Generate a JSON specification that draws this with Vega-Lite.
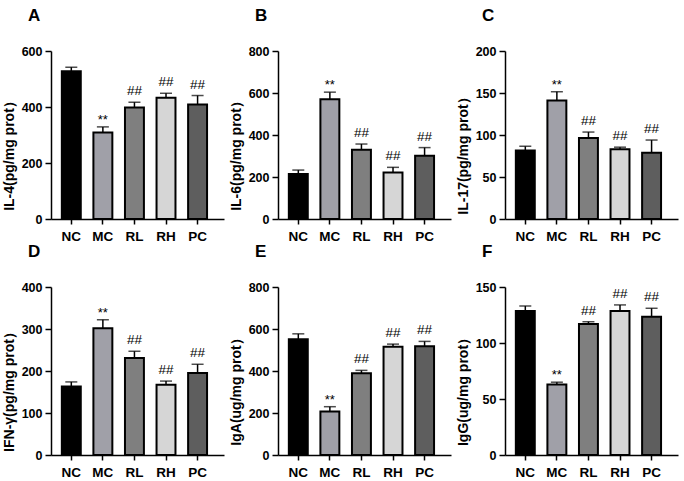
{
  "$schema": "https://vega.github.io/schema/vega-lite/v6.json",
  "padding": {"left": 2, "top": 7, "right": 2, "bottom": 3},
  "background": "white",
  "spacing": 0,
  "datasets": {
    "d": [
      {"panel": "A", "group": "NC", "mean": 528, "hi": 542, "sig": ""},
      {"panel": "A", "group": "MC", "mean": 309, "hi": 329, "sig": "**"},
      {"panel": "A", "group": "RL", "mean": 398, "hi": 417, "sig": "##"},
      {"panel": "A", "group": "RH", "mean": 433, "hi": 449, "sig": "##"},
      {"panel": "A", "group": "PC", "mean": 409, "hi": 441, "sig": "##"},
      {"panel": "B", "group": "NC", "mean": 214, "hi": 233, "sig": ""},
      {"panel": "B", "group": "MC", "mean": 570, "hi": 604, "sig": "**"},
      {"panel": "B", "group": "RL", "mean": 330, "hi": 357, "sig": "##"},
      {"panel": "B", "group": "RH", "mean": 221, "hi": 246, "sig": "##"},
      {"panel": "B", "group": "PC", "mean": 301, "hi": 340, "sig": "##"},
      {"panel": "C", "group": "NC", "mean": 81.5, "hi": 86.5, "sig": ""},
      {"panel": "C", "group": "MC", "mean": 141, "hi": 151.5, "sig": "**"},
      {"panel": "C", "group": "RL", "mean": 96.5, "hi": 103.5, "sig": "##"},
      {"panel": "C", "group": "RH", "mean": 83, "hi": 85.5, "sig": "##"},
      {"panel": "C", "group": "PC", "mean": 79, "hi": 94, "sig": "##"},
      {"panel": "D", "group": "NC", "mean": 163, "hi": 174, "sig": ""},
      {"panel": "D", "group": "MC", "mean": 302, "hi": 322, "sig": "**"},
      {"panel": "D", "group": "RL", "mean": 231, "hi": 247, "sig": "##"},
      {"panel": "D", "group": "RH", "mean": 167, "hi": 176, "sig": "##"},
      {"panel": "D", "group": "PC", "mean": 195, "hi": 216, "sig": "##"},
      {"panel": "E", "group": "NC", "mean": 551, "hi": 577, "sig": ""},
      {"panel": "E", "group": "MC", "mean": 207, "hi": 230, "sig": "**"},
      {"panel": "E", "group": "RL", "mean": 389, "hi": 403, "sig": "##"},
      {"panel": "E", "group": "RH", "mean": 515, "hi": 528, "sig": "##"},
      {"panel": "E", "group": "PC", "mean": 518, "hi": 541, "sig": "##"},
      {"panel": "F", "group": "NC", "mean": 128.5, "hi": 133, "sig": ""},
      {"panel": "F", "group": "MC", "mean": 63, "hi": 65, "sig": "**"},
      {"panel": "F", "group": "RL", "mean": 117, "hi": 119, "sig": "##"},
      {"panel": "F", "group": "RH", "mean": 128.5, "hi": 134, "sig": "##"},
      {"panel": "F", "group": "PC", "mean": 123.5, "hi": 131, "sig": "##"}
    ]
  },
  "vconcat": [
    {
      "spacing": 5,
      "hconcat": [
        {
          "width": 173, "height": 168,
          "title": "A",
          "data": {"name": "d"},
          "transform": [{"filter": "datum.panel === 'A'"}],
          "encoding": {"x": {"field": "group", "type": "nominal", "sort": ["NC", "MC", "RL", "RH", "PC"], "title": null, "scale": {"paddingInner": 0.4, "paddingOuter": 0.44, "align": 0.39}}},
          "layer": [
            {"mark": {"type": "rule", "color": "black", "strokeWidth": 1.5}, "encoding": {"y": {"field": "mean", "type": "quantitative", "title": "IL-4(pg/mg prot）", "scale": {"domain": [0, 600], "nice": false}, "axis": {"values": [0, 200, 400, 600]}}, "y2": {"field": "hi"}}},
            {"mark": {"type": "tick", "color": "black", "size": 12, "thickness": 1.5}, "encoding": {"y": {"field": "hi", "type": "quantitative", "title": "IL-4(pg/mg prot）"}}},
            {"mark": {"type": "bar", "stroke": "black", "strokeWidth": 2}, "encoding": {"y": {"field": "mean", "type": "quantitative", "title": "IL-4(pg/mg prot）"}, "color": {"field": "group", "type": "nominal", "scale": {"domain": ["NC", "MC", "RL", "RH", "PC"], "range": ["#000000", "#a0a0a8", "#7f7f7f", "#d6d6d6", "#5e5e5e"]}, "legend": null}}},
            {"transform": [{"filter": "datum.sig === '**'"}], "mark": {"type": "text", "fontSize": 13, "dy": -3, "baseline": "alphabetic", "color": "black"}, "encoding": {"y": {"field": "hi", "type": "quantitative", "title": "IL-4(pg/mg prot）"}, "text": {"field": "sig"}}},
            {"transform": [{"filter": "datum.sig === '##'"}], "mark": {"type": "text", "fontSize": 13.5, "dy": -7, "baseline": "alphabetic", "color": "black"}, "encoding": {"y": {"field": "hi", "type": "quantitative", "title": "IL-4(pg/mg prot）"}, "text": {"field": "sig"}}}
          ]
        },
        {
          "width": 173, "height": 168,
          "title": "B",
          "data": {"name": "d"},
          "transform": [{"filter": "datum.panel === 'B'"}],
          "encoding": {"x": {"field": "group", "type": "nominal", "sort": ["NC", "MC", "RL", "RH", "PC"], "title": null, "scale": {"paddingInner": 0.4, "paddingOuter": 0.44, "align": 0.39}}},
          "layer": [
            {"mark": {"type": "rule", "color": "black", "strokeWidth": 1.5}, "encoding": {"y": {"field": "mean", "type": "quantitative", "title": "IL-6(pg/mg prot）", "scale": {"domain": [0, 800], "nice": false}, "axis": {"values": [0, 200, 400, 600, 800]}}, "y2": {"field": "hi"}}},
            {"mark": {"type": "tick", "color": "black", "size": 12, "thickness": 1.5}, "encoding": {"y": {"field": "hi", "type": "quantitative", "title": "IL-6(pg/mg prot）"}}},
            {"mark": {"type": "bar", "stroke": "black", "strokeWidth": 2}, "encoding": {"y": {"field": "mean", "type": "quantitative", "title": "IL-6(pg/mg prot）"}, "color": {"field": "group", "type": "nominal", "scale": {"domain": ["NC", "MC", "RL", "RH", "PC"], "range": ["#000000", "#a0a0a8", "#7f7f7f", "#d6d6d6", "#5e5e5e"]}, "legend": null}}},
            {"transform": [{"filter": "datum.sig === '**'"}], "mark": {"type": "text", "fontSize": 13, "dy": -3, "baseline": "alphabetic", "color": "black"}, "encoding": {"y": {"field": "hi", "type": "quantitative", "title": "IL-6(pg/mg prot）"}, "text": {"field": "sig"}}},
            {"transform": [{"filter": "datum.sig === '##'"}], "mark": {"type": "text", "fontSize": 13.5, "dy": -7, "baseline": "alphabetic", "color": "black"}, "encoding": {"y": {"field": "hi", "type": "quantitative", "title": "IL-6(pg/mg prot）"}, "text": {"field": "sig"}}}
          ]
        },
        {
          "width": 173, "height": 168,
          "title": "C",
          "data": {"name": "d"},
          "transform": [{"filter": "datum.panel === 'C'"}],
          "encoding": {"x": {"field": "group", "type": "nominal", "sort": ["NC", "MC", "RL", "RH", "PC"], "title": null, "scale": {"paddingInner": 0.4, "paddingOuter": 0.44, "align": 0.39}}},
          "layer": [
            {"mark": {"type": "rule", "color": "black", "strokeWidth": 1.5}, "encoding": {"y": {"field": "mean", "type": "quantitative", "title": "IL-17(pg/mg prot）", "scale": {"domain": [0, 200], "nice": false}, "axis": {"values": [0, 50, 100, 150, 200]}}, "y2": {"field": "hi"}}},
            {"mark": {"type": "tick", "color": "black", "size": 12, "thickness": 1.5}, "encoding": {"y": {"field": "hi", "type": "quantitative", "title": "IL-17(pg/mg prot）"}}},
            {"mark": {"type": "bar", "stroke": "black", "strokeWidth": 2}, "encoding": {"y": {"field": "mean", "type": "quantitative", "title": "IL-17(pg/mg prot）"}, "color": {"field": "group", "type": "nominal", "scale": {"domain": ["NC", "MC", "RL", "RH", "PC"], "range": ["#000000", "#a0a0a8", "#7f7f7f", "#d6d6d6", "#5e5e5e"]}, "legend": null}}},
            {"transform": [{"filter": "datum.sig === '**'"}], "mark": {"type": "text", "fontSize": 13, "dy": -3, "baseline": "alphabetic", "color": "black"}, "encoding": {"y": {"field": "hi", "type": "quantitative", "title": "IL-17(pg/mg prot）"}, "text": {"field": "sig"}}},
            {"transform": [{"filter": "datum.sig === '##'"}], "mark": {"type": "text", "fontSize": 13.5, "dy": -7, "baseline": "alphabetic", "color": "black"}, "encoding": {"y": {"field": "hi", "type": "quantitative", "title": "IL-17(pg/mg prot）"}, "text": {"field": "sig"}}}
          ]
        }
      ]
    },
    {
      "spacing": 5,
      "hconcat": [
        {
          "width": 173, "height": 168,
          "title": "D",
          "data": {"name": "d"},
          "transform": [{"filter": "datum.panel === 'D'"}],
          "encoding": {"x": {"field": "group", "type": "nominal", "sort": ["NC", "MC", "RL", "RH", "PC"], "title": null, "scale": {"paddingInner": 0.4, "paddingOuter": 0.44, "align": 0.39}}},
          "layer": [
            {"mark": {"type": "rule", "color": "black", "strokeWidth": 1.5}, "encoding": {"y": {"field": "mean", "type": "quantitative", "title": "IFN-γ(pg/mg prot）", "scale": {"domain": [0, 400], "nice": false}, "axis": {"values": [0, 100, 200, 300, 400]}}, "y2": {"field": "hi"}}},
            {"mark": {"type": "tick", "color": "black", "size": 12, "thickness": 1.5}, "encoding": {"y": {"field": "hi", "type": "quantitative", "title": "IFN-γ(pg/mg prot）"}}},
            {"mark": {"type": "bar", "stroke": "black", "strokeWidth": 2}, "encoding": {"y": {"field": "mean", "type": "quantitative", "title": "IFN-γ(pg/mg prot）"}, "color": {"field": "group", "type": "nominal", "scale": {"domain": ["NC", "MC", "RL", "RH", "PC"], "range": ["#000000", "#a0a0a8", "#7f7f7f", "#d6d6d6", "#5e5e5e"]}, "legend": null}}},
            {"transform": [{"filter": "datum.sig === '**'"}], "mark": {"type": "text", "fontSize": 13, "dy": -3, "baseline": "alphabetic", "color": "black"}, "encoding": {"y": {"field": "hi", "type": "quantitative", "title": "IFN-γ(pg/mg prot）"}, "text": {"field": "sig"}}},
            {"transform": [{"filter": "datum.sig === '##'"}], "mark": {"type": "text", "fontSize": 13.5, "dy": -7, "baseline": "alphabetic", "color": "black"}, "encoding": {"y": {"field": "hi", "type": "quantitative", "title": "IFN-γ(pg/mg prot）"}, "text": {"field": "sig"}}}
          ]
        },
        {
          "width": 173, "height": 168,
          "title": "E",
          "data": {"name": "d"},
          "transform": [{"filter": "datum.panel === 'E'"}],
          "encoding": {"x": {"field": "group", "type": "nominal", "sort": ["NC", "MC", "RL", "RH", "PC"], "title": null, "scale": {"paddingInner": 0.4, "paddingOuter": 0.44, "align": 0.39}}},
          "layer": [
            {"mark": {"type": "rule", "color": "black", "strokeWidth": 1.5}, "encoding": {"y": {"field": "mean", "type": "quantitative", "title": "IgA(ug/mg prot）", "scale": {"domain": [0, 800], "nice": false}, "axis": {"values": [0, 200, 400, 600, 800]}}, "y2": {"field": "hi"}}},
            {"mark": {"type": "tick", "color": "black", "size": 12, "thickness": 1.5}, "encoding": {"y": {"field": "hi", "type": "quantitative", "title": "IgA(ug/mg prot）"}}},
            {"mark": {"type": "bar", "stroke": "black", "strokeWidth": 2}, "encoding": {"y": {"field": "mean", "type": "quantitative", "title": "IgA(ug/mg prot）"}, "color": {"field": "group", "type": "nominal", "scale": {"domain": ["NC", "MC", "RL", "RH", "PC"], "range": ["#000000", "#a0a0a8", "#7f7f7f", "#d6d6d6", "#5e5e5e"]}, "legend": null}}},
            {"transform": [{"filter": "datum.sig === '**'"}], "mark": {"type": "text", "fontSize": 13, "dy": -3, "baseline": "alphabetic", "color": "black"}, "encoding": {"y": {"field": "hi", "type": "quantitative", "title": "IgA(ug/mg prot）"}, "text": {"field": "sig"}}},
            {"transform": [{"filter": "datum.sig === '##'"}], "mark": {"type": "text", "fontSize": 13.5, "dy": -7, "baseline": "alphabetic", "color": "black"}, "encoding": {"y": {"field": "hi", "type": "quantitative", "title": "IgA(ug/mg prot）"}, "text": {"field": "sig"}}}
          ]
        },
        {
          "width": 173, "height": 168,
          "title": "F",
          "data": {"name": "d"},
          "transform": [{"filter": "datum.panel === 'F'"}],
          "encoding": {"x": {"field": "group", "type": "nominal", "sort": ["NC", "MC", "RL", "RH", "PC"], "title": null, "scale": {"paddingInner": 0.4, "paddingOuter": 0.44, "align": 0.39}}},
          "layer": [
            {"mark": {"type": "rule", "color": "black", "strokeWidth": 1.5}, "encoding": {"y": {"field": "mean", "type": "quantitative", "title": "IgG(ug/mg prot）", "scale": {"domain": [0, 150], "nice": false}, "axis": {"values": [0, 50, 100, 150]}}, "y2": {"field": "hi"}}},
            {"mark": {"type": "tick", "color": "black", "size": 12, "thickness": 1.5}, "encoding": {"y": {"field": "hi", "type": "quantitative", "title": "IgG(ug/mg prot）"}}},
            {"mark": {"type": "bar", "stroke": "black", "strokeWidth": 2}, "encoding": {"y": {"field": "mean", "type": "quantitative", "title": "IgG(ug/mg prot）"}, "color": {"field": "group", "type": "nominal", "scale": {"domain": ["NC", "MC", "RL", "RH", "PC"], "range": ["#000000", "#a0a0a8", "#7f7f7f", "#d6d6d6", "#5e5e5e"]}, "legend": null}}},
            {"transform": [{"filter": "datum.sig === '**'"}], "mark": {"type": "text", "fontSize": 13, "dy": -3, "baseline": "alphabetic", "color": "black"}, "encoding": {"y": {"field": "hi", "type": "quantitative", "title": "IgG(ug/mg prot）"}, "text": {"field": "sig"}}},
            {"transform": [{"filter": "datum.sig === '##'"}], "mark": {"type": "text", "fontSize": 13.5, "dy": -7, "baseline": "alphabetic", "color": "black"}, "encoding": {"y": {"field": "hi", "type": "quantitative", "title": "IgG(ug/mg prot）"}, "text": {"field": "sig"}}}
          ]
        }
      ]
    }
  ],
  "config": {
    "view": {"stroke": null},
    "font": "Liberation Sans",
    "axis": {"grid": false, "domainColor": "black", "domainWidth": 1.5, "tickColor": "black", "tickWidth": 1.5, "labelColor": "black", "labelFont": "Liberation Sans", "labelFontWeight": "bold", "titleColor": "black", "titleFont": "Liberation Sans", "titleFontWeight": "bold"},
    "axisX": {"labelFontSize": 13.5, "labelAngle": 0, "tickSize": 5, "labelPadding": 5},
    "axisY": {"labelFontSize": 12.5, "tickSize": 6, "labelPadding": 3, "titleFontSize": 14, "titlePadding": 5, "titleY": 101},
    "title": {"anchor": "start", "frame": "group", "fontSize": 17, "fontWeight": "bold", "font": "Liberation Sans", "color": "black", "dx": -23, "offset": 20}
  }
}
